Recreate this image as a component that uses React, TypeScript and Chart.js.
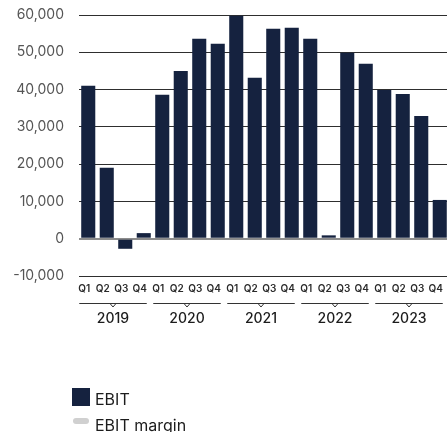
import React, { useEffect, useRef } from "react";
import { Chart, registerables } from "chart.js";

Chart.register(...registerables);

const quarterLabels = [
  "Q1", "Q2", "Q3", "Q4",
  "Q1", "Q2", "Q3", "Q4",
  "Q1", "Q2", "Q3", "Q4",
  "Q1", "Q2", "Q3", "Q4",
  "Q1", "Q2", "Q3", "Q4",
];
const years = ["2019", "2020", "2021", "2022", "2023"];
const ebitValues = [
  41000, 19000, -2700, 1500,
  38600, 45000, 53600, 52300,
  59800, 43200, 56300, 56600,
  53600, 900, 49900, 46900,
  39900, 38800, 32900, 10400,
];
const legendItems = ["EBIT", "EBIT margin"];
const yMin = -10000;
const yMax = 60000;
const yStep = 10000;

const FONT = "Inter, 'Noto Sans', sans-serif";
const BAR_COLOR = "#15223f";
const MARGIN_COLOR = "#d0d0d0";

const decorPlugin = {
  id: "decor",
  afterDraw(chart: any) {
    const x = chart.scales.x;
    const ctx = chart.ctx;
    const lineY = chart.chartArea.bottom + 27;
    ctx.save();
    years.forEach((yr, g) => {
      const a = x.getPixelForValue(g * 4);
      const b = x.getPixelForValue(g * 4 + 3);
      const cx = (a + b) / 2 - 3;
      const half = (b - a) / 2 + 6;
      ctx.strokeStyle = "#333";
      ctx.lineWidth = 1;
      ctx.beginPath();
      ctx.moveTo(cx - half, lineY + 0.5);
      ctx.lineTo(cx + half, lineY + 0.5);
      ctx.stroke();
      ctx.beginPath();
      ctx.moveTo(cx - 3, lineY + 0.5);
      ctx.lineTo(cx, lineY + 4);
      ctx.lineTo(cx + 3, lineY + 0.5);
      ctx.stroke();
      ctx.fillStyle = "#1c1c1c";
      ctx.font = `500 14px ${FONT}`;
      ctx.textAlign = "center";
      ctx.textBaseline = "middle";
      ctx.fillText(yr, cx, lineY + 16);
    });

    // legend (vertical, bottom-left)
    const lx = 64;
    ctx.font = `400 16px ${FONT}`;
    ctx.textAlign = "left";
    ctx.textBaseline = "alphabetic";
    ctx.fillStyle = BAR_COLOR;
    ctx.fillRect(lx, 388, 18, 18);
    ctx.fillStyle = "#1c1c1c";
    ctx.fillText(legendItems[0], lx + 23, 405);
    ctx.fillStyle = MARGIN_COLOR;
    ctx.beginPath();
    (ctx as any).roundRect(lx + 1, 418, 16, 6, 3);
    ctx.fill();
    ctx.fillStyle = "#1c1c1c";
    ctx.fillText(legendItems[1], lx + 23, 431);
    ctx.restore();
  },
};

export default function App() {
  const ref = useRef<HTMLCanvasElement | null>(null);

  useEffect(() => {
    if (!ref.current) return;
    const chart = new Chart(ref.current, {
      type: "bar",
      data: {
        labels: quarterLabels,
        datasets: [
          {
            label: legendItems[0],
            data: ebitValues,
            backgroundColor: BAR_COLOR,
            borderWidth: 0,
            categoryPercentage: 0.76,
            barPercentage: 1,
          },
        ],
      },
      options: {
        responsive: false,
        animation: false,
        devicePixelRatio: 1,
        layout: { padding: { top: 15, right: 0, bottom: 0, left: 0 } },
        plugins: {
          legend: { display: false },
          tooltip: { enabled: false },
        },
        scales: {
          x: {
            offset: true,
            grid: { display: false, drawTicks: false },
            border: { display: false },
            ticks: {
              color: "#2a2a2a",
              font: { family: FONT, size: 10, weight: "600" },
              padding: 7,
              labelOffset: -4,
              maxRotation: 0,
              autoSkip: false,
            },
            afterFit(scale: any) {
              scale.height = 156;
              scale.paddingLeft = 0;
              scale.paddingRight = 0;
            },
          },
          y: {
            min: yMin,
            max: yMax,
            border: { display: false },
            grid: {
              drawTicks: false,
              color: (c: any) => (c.tick && c.tick.value === 0 ? "#8c8c8c" : "#2e2e2e"),
              lineWidth: (c: any) => (c.tick && c.tick.value === 0 ? 2 : 1),
            },
            ticks: {
              stepSize: yStep,
              color: "#555",
              padding: 15,
              font: { family: FONT, size: 14 },
              callback: (v: any) => Number(v).toLocaleString("en-US"),
            },
            afterFit(scale: any) {
              scale.width = 71;
              scale.paddingTop = 0;
              scale.paddingBottom = 0;
            },
          },
        },
      },
      plugins: [decorPlugin],
    });
    return () => chart.destroy();
  }, []);

  return (
    <div
      style={{
        position: "fixed",
        left: 0,
        top: 0,
        width: 447,
        height: 432,
        overflow: "hidden",
        background: "#fff",
      }}
    >
      <canvas
        ref={ref}
        width={441}
        height={432}
        style={{ position: "absolute", left: 8, top: 0, width: 441, height: 432 }}
      />
    </div>
  );
}
